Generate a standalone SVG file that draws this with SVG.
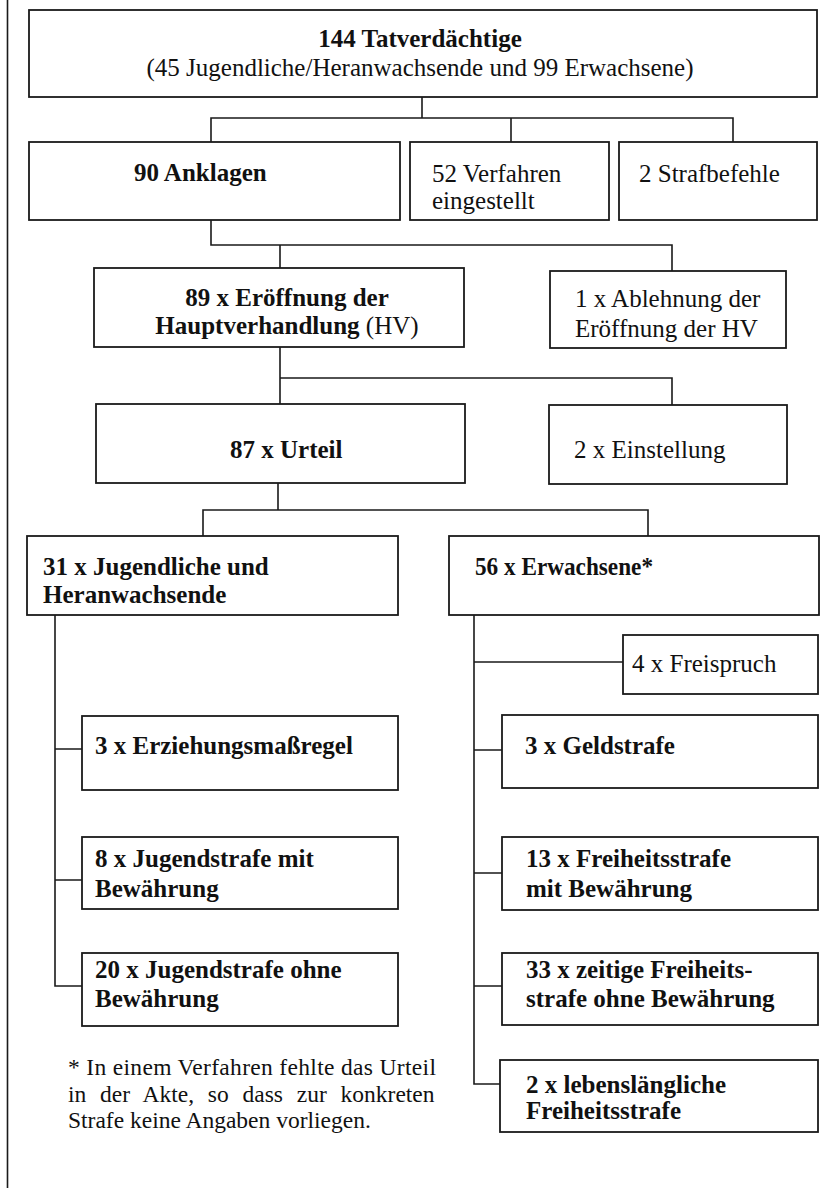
<svg xmlns="http://www.w3.org/2000/svg" width="825" height="1195" viewBox="0 0 825 1195">
<style>
.b{fill:#fff;stroke:#1a1a1a;stroke-width:1.8}
.c{fill:none;stroke:#1a1a1a;stroke-width:1.6}
text{font-family:"Liberation Serif","Times New Roman",serif;font-size:25px;fill:#111}
.bd{font-weight:bold}
.m{text-anchor:middle}
.f{font-size:23.5px}
</style>
<rect width="825" height="1195" fill="#fff"/>
<line x1="7.5" y1="0" x2="7.5" y2="1188" class="c"/>
<g id="connectors">
<path class="c" d="M422,97V118M211,142V118H733V142M511,118V142"/>
<path class="c" d="M211,220V245H672V271M280,245V268"/>
<path class="c" d="M280,347V378H672V405M280,378V404"/>
<path class="c" d="M278,483V510M203,536V510H648V536"/>
<path class="c" d="M55,615V986H82M55,749H82M55,880H82"/>
<path class="c" d="M474,615V1084H500M474,662H623M474,750H502M474,873H502M474,986H502"/>
</g>
<g id="n_top"><rect class="b" x="29" y="10" width="788" height="87"/>
<text class="bd m" x="420" y="47">144 Tatverdächtige</text>
<text class="m" x="420" y="76">(45 Jugendliche/Heranwachsende und 99 Erwachsene)</text></g>
<g id="n_anklagen"><rect class="b" x="29" y="142" width="371" height="78"/>
<text class="bd" x="134" y="181">90 Anklagen</text></g>
<g id="n_verfahren"><rect class="b" x="410" y="142" width="199" height="78"/>
<text x="432" y="182">52 Verfahren</text><text x="432" y="209">eingestellt</text></g>
<g id="n_strafbefehle"><rect class="b" x="619" y="142" width="198" height="78"/>
<text x="639" y="182">2 Strafbefehle</text></g>
<g id="n_eroeffnung"><rect class="b" x="94" y="268" width="370" height="79"/>
<text class="bd m" x="287" y="306">89 x Eröffnung der</text>
<text class="m" x="287" y="334"><tspan class="bd">Hauptverhandlung</tspan> (HV)</text></g>
<g id="n_ablehnung"><rect class="b" x="550" y="271" width="236" height="77"/>
<text x="575" y="307">1 x Ablehnung der</text><text x="575" y="337">Eröffnung der HV</text></g>
<g id="n_urteil"><rect class="b" x="96" y="404" width="369" height="79"/>
<text class="bd" x="230" y="458">87 x Urteil</text></g>
<g id="n_einstellung"><rect class="b" x="549" y="405" width="238" height="79"/>
<text x="574" y="458">2 x Einstellung</text></g>
<g id="n_jugendliche"><rect class="b" x="27" y="536" width="371" height="79"/>
<text class="bd" x="43" y="575">31 x Jugendliche und</text><text class="bd" x="43" y="603">Heranwachsende</text></g>
<g id="n_erwachsene"><rect class="b" x="449" y="536" width="370" height="79"/>
<text class="bd" x="475" y="575" textLength="178" lengthAdjust="spacingAndGlyphs">56 x Erwachsene*</text></g>
<g id="n_freispruch"><rect class="b" x="623" y="635" width="195" height="59"/>
<text x="632" y="672">4 x Freispruch</text></g>
<g id="n_erziehung"><rect class="b" x="82" y="716" width="316" height="74"/>
<text class="bd" x="95" y="754">3 x Erziehungsmaßregel</text></g>
<g id="n_geldstrafe"><rect class="b" x="502" y="715" width="316" height="73"/>
<text class="bd" x="525" y="754">3 x Geldstrafe</text></g>
<g id="n_jmit"><rect class="b" x="82" y="837" width="316" height="72"/>
<text class="bd" x="95" y="867">8 x Jugendstrafe mit</text><text class="bd" x="95" y="897">Bewährung</text></g>
<g id="n_fmit"><rect class="b" x="502" y="837" width="316" height="73"/>
<text class="bd" x="526" y="867">13 x Freiheitsstrafe</text><text class="bd" x="526" y="897">mit Bewährung</text></g>
<g id="n_johne"><rect class="b" x="82" y="953" width="316" height="73"/>
<text class="bd" x="95" y="978">20 x Jugendstrafe ohne</text><text class="bd" x="95" y="1007">Bewährung</text></g>
<g id="n_fohne"><rect class="b" x="502" y="953" width="316" height="72"/>
<text class="bd" x="526" y="978">33 x zeitige Freiheits-</text><text class="bd" x="526" y="1007">strafe ohne Bewährung</text></g>
<g id="n_lebens"><rect class="b" x="500" y="1060" width="318" height="72"/>
<text class="bd" x="526" y="1093">2 x lebenslängliche</text><text class="bd" x="526" y="1119">Freiheitsstrafe</text></g>
<g id="footnote">
<text class="f" x="68" y="1075" textLength="368" lengthAdjust="spacing">* In einem Verfahren fehlte das Urteil</text>
<text class="f" x="68" y="1101.5" word-spacing="7.9">in der Akte, so dass zur konkreten</text>
<text class="f" x="68" y="1128">Strafe keine Angaben vorliegen.</text>
</g>
</svg>
